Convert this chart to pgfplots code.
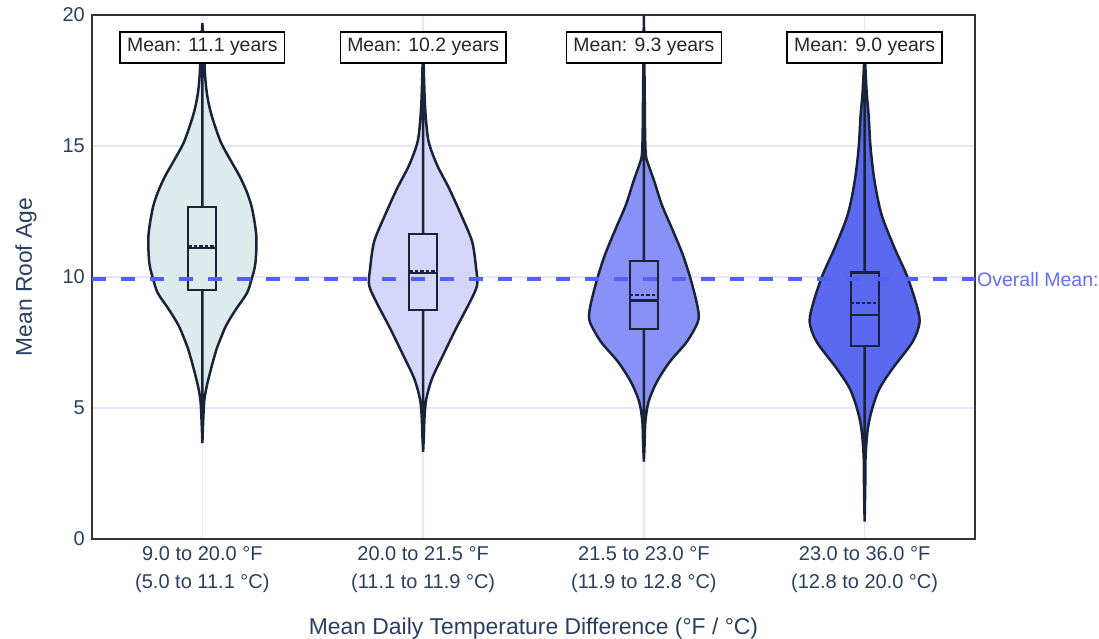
\documentclass[border=0pt]{standalone}
\usepackage{fontspec}
\setmainfont{Liberation Sans}
\usepackage{pgfplots}
\usepackage{pgfplotstable}
\pgfplotsset{compat=1.18}
\usepgfplotslibrary{fillbetween}

\definecolor{txt}{HTML}{2A3F5F}
\definecolor{gridc}{HTML}{E6E6FA}
\definecolor{edge}{HTML}{1B2338}
\definecolor{vA}{HTML}{DCEBEB}
\definecolor{vB}{HTML}{D4D6FA}
\definecolor{vC}{HTML}{8891F5}
\definecolor{vD}{HTML}{5A69F0}
\definecolor{meanline}{HTML}{5262F7}
\definecolor{meantxt}{HTML}{636EFA}

% violin profiles: value v, half-width h (px, 220.75 px = 1 category)
\pgfplotstableread{
v h
3.66 0
4.5 0.8
5.31 2
5.94 5
6.83 11
7.25 14.2
8.11 23.3
8.75 33.3
9.38 44.5
9.89 49
10.52 53
11.54 54
12.56 50
13.19 45
13.83 37.5
14.47 28
15.1 19
15.74 12.8
16.37 7.8
17.01 4.5
17.65 2.8
18.6 1.5
19.7 0
}\vOne
\pgfplotstableread{
v h
3.33 0
4.0 0.8
4.73 1.5
5.37 3.3
6.13 9
7.02 20
8.04 33
9.06 47
9.69 54
10.33 53
11.35 49
12.37 38
13.38 26
14.27 14
15.17 5.5
16.18 2.5
17.2 1.2
19.0 0
}\vTwo
\pgfplotstableread{
v h
2.95 0
3.7 0.8
4.48 1.5
5.24 4.7
6.0 13
6.77 26
7.53 43
8.29 54
8.8 54
9.82 47.5
10.84 39
11.86 28
12.75 18
13.64 10.5
14.27 4.7
14.65 2
15.5 1.2
17.0 0.8
20.0 0
}\vThree
\pgfplotstableread{
v h
0.66 0
2.0 0.6
3.2 1
4.23 3.3
4.99 7.7
5.75 15
6.51 28
7.53 48
8.29 55
9.06 51
10.08 42
11.1 30
12.37 17
13.64 10
14.91 6
16.18 4
17.07 2
18.6 0
}\vFour

\tikzset{meanlab/.style={draw=black, line width=1.5pt, fill=white, font=\fontsize{19.4}{22}\selectfont, text=black!85, inner xsep=7pt, inner ysep=7pt, text height=13pt, text depth=4pt}}

\begin{document}
\begin{tikzpicture}
\begin{axis}[
  at={(0,0)}, anchor=south west,
  scale only axis, width=883pt, height=524pt,
  xmin=-0.5, xmax=3.5, ymin=0, ymax=20,
  clip=false,
  xtick={0,1,2,3},
  xticklabels={{9.0 to 20.0 °F\\(5.0 to 11.1 °C)},{20.0 to 21.5 °F\\(11.1 to 11.9 °C)},{21.5 to 23.0 °F\\(11.9 to 12.8 °C)},{23.0 to 36.0 °F\\(12.8 to 20.0 °C)}},
  ytick={0,5,10,15,20},
  /pgf/number format/assume math mode=true,
  grid=major,
  major grid style={draw=gridc, line width=1.3pt},
  tick style={draw=none},
  major tick length=0pt,
  axis line style={draw=black!80, line width=1.8pt},
  xticklabel style={font=\fontsize{20}{28}\selectfont, text=txt, align=center, inner sep=0pt, anchor=north, yshift=-7pt},
  yticklabel style={font=\fontsize{20}{23}\selectfont, text=txt, inner sep=0pt, anchor=east, xshift=-7pt},
  xlabel={Mean Daily Temperature Difference (°F / °C)},
  ylabel={Mean Roof Age},
  xlabel style={font=\fontsize{22.9}{26}\selectfont, text=txt, inner sep=0pt, at={(axis description cs:0.5,-0.1813)}, anchor=base},
  ylabel style={font=\fontsize{22.8}{26}\selectfont, text=txt, inner sep=0pt, at={(axis description cs:-0.0747,0.5)}, anchor=center},
]
% violins
\addplot[draw=none, smooth, name path=A1] table[x expr=0+\thisrow{h}/220.75, y=v] {\vOne};
\addplot[draw=none, smooth, name path=B1] table[x expr=0-\thisrow{h}/220.75, y=v] {\vOne};
\addplot[fill=vA, draw=edge, line width=2.5pt] fill between[of=A1 and B1];
\addplot[draw=none, smooth, name path=A2] table[x expr=1+\thisrow{h}/220.75, y=v] {\vTwo};
\addplot[draw=none, smooth, name path=B2] table[x expr=1-\thisrow{h}/220.75, y=v] {\vTwo};
\addplot[fill=vB, draw=edge, line width=2.5pt] fill between[of=A2 and B2];
\addplot[draw=none, smooth, name path=A3] table[x expr=2+\thisrow{h}/220.75, y=v] {\vThree};
\addplot[draw=none, smooth, name path=B3] table[x expr=2-\thisrow{h}/220.75, y=v] {\vThree};
\addplot[fill=vC, draw=edge, line width=2.5pt] fill between[of=A3 and B3];
\addplot[draw=none, smooth, name path=A4] table[x expr=3+\thisrow{h}/220.75, y=v] {\vFour};
\addplot[draw=none, smooth, name path=B4] table[x expr=3-\thisrow{h}/220.75, y=v] {\vFour};
\addplot[fill=vD, draw=edge, line width=2.5pt] fill between[of=A4 and B4];

% whiskers
\addplot[edge, line width=2.2pt] coordinates {(0,4.75) (0,17.4)};
\addplot[edge, line width=2.2pt] coordinates {(1,4.42) (1,15.97)};
\addplot[edge, line width=2.2pt] coordinates {(2,4.13) (2,14.5)};
\addplot[edge, line width=2.2pt] coordinates {(3,3.2) (3,14.25)};
% boxes
\addplot[fill=vA, draw=edge, line width=2.2pt] coordinates {(-0.0634,9.5) (0.0634,9.5) (0.0634,12.67) (-0.0634,12.67)} -- cycle;
\addplot[fill=vB, draw=edge, line width=2.2pt] coordinates {(0.9366,8.75) (1.0634,8.75) (1.0634,11.64) (0.9366,11.64)} -- cycle;
\addplot[fill=vC, draw=edge, line width=2.2pt] coordinates {(1.9366,8.02) (2.0634,8.02) (2.0634,10.61) (1.9366,10.61)} -- cycle;
\addplot[fill=vD, draw=edge, line width=2.2pt] coordinates {(2.9366,7.37) (3.0634,7.37) (3.0634,10.17) (2.9366,10.17)} -- cycle;
% medians
\addplot[edge, line width=2.2pt] coordinates {(-0.0634,11.1) (0.0634,11.1)};
\addplot[edge, line width=2.2pt] coordinates {(0.9366,10.15) (1.0634,10.15)};
\addplot[edge, line width=2.2pt] coordinates {(1.9366,9.1) (2.0634,9.1)};
\addplot[edge, line width=2.2pt] coordinates {(2.9366,8.55) (3.0634,8.55)};
% means
\addplot[edge, line width=1.8pt, dash pattern=on 3.5pt off 2pt] coordinates {(-0.0634,11.18) (0.0634,11.18)};
\addplot[edge, line width=1.8pt, dash pattern=on 3.5pt off 2pt] coordinates {(0.9366,10.23) (1.0634,10.23)};
\addplot[edge, line width=1.8pt, dash pattern=on 3.5pt off 2pt] coordinates {(1.9366,9.31) (2.0634,9.31)};
\addplot[edge, line width=1.8pt, dash pattern=on 3.5pt off 2pt] coordinates {(2.9366,9.0) (3.0634,9.0)};

% overall mean
\addplot[meanline, line width=3.4pt, dash pattern=on 14pt off 15pt] coordinates {(-0.5,9.92) (3.5,9.92)};
\node[anchor=west, inner sep=0pt, text=meantxt, font=\fontsize{19.5}{23}\selectfont, xshift=2pt] at (axis cs:3.5,9.92) {Overall Mean:};

% mean labels
\node[meanlab] at (axis cs:0,18.76) {Mean: 11.1 years};
\node[meanlab] at (axis cs:1,18.76) {Mean: 10.2 years};
\node[meanlab] at (axis cs:2,18.76) {Mean: 9.3 years};
\node[meanlab] at (axis cs:3,18.76) {Mean: 9.0 years};
\end{axis}
\pgfresetboundingbox
\path[use as bounding box] (-92pt,-100pt) rectangle (1007pt,539pt);
\end{tikzpicture}
\end{document}
